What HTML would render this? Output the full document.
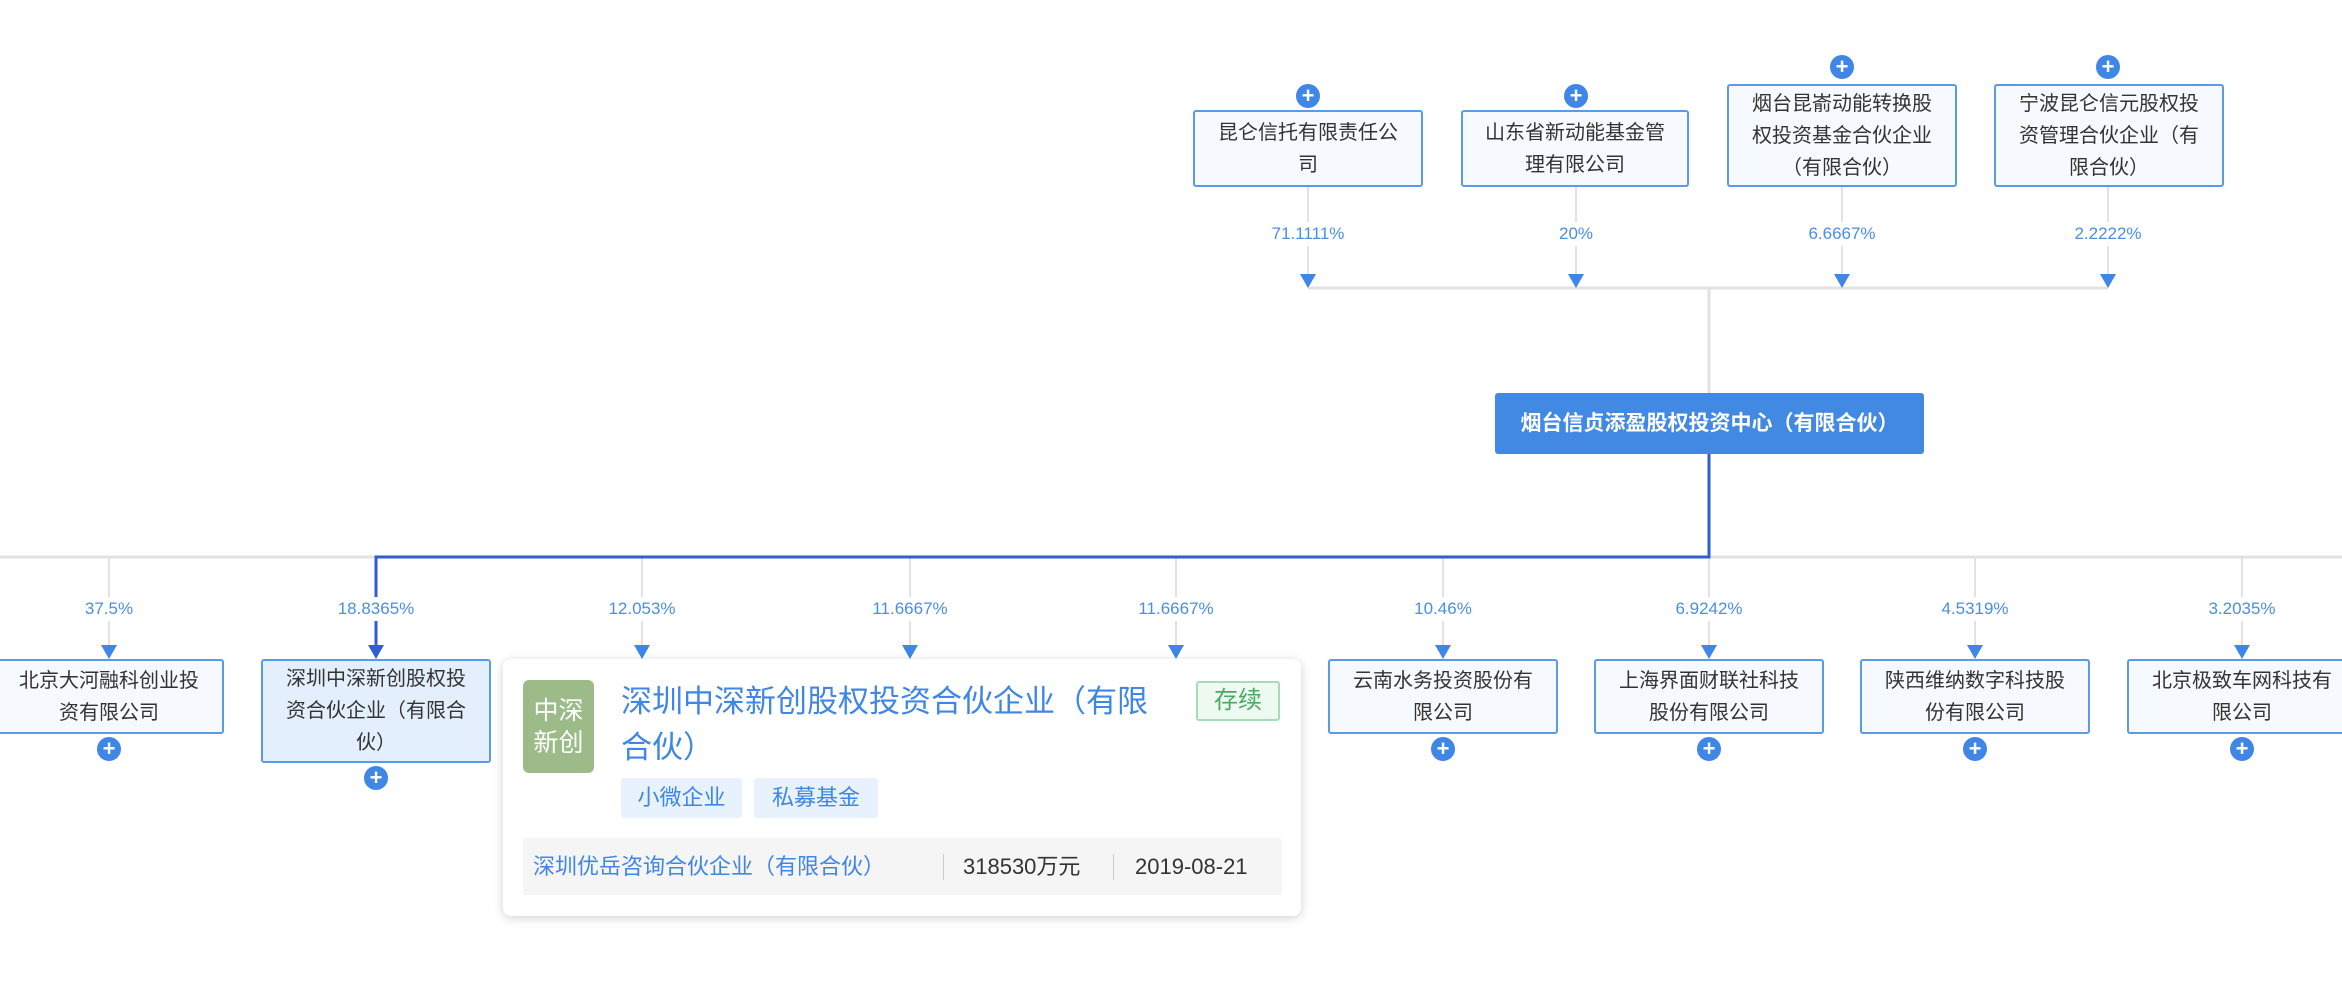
<!DOCTYPE html>
<html><head><meta charset="utf-8"><style>
body{margin:0;width:2342px;height:982px;background:#fff;position:relative;overflow:hidden;font-family:"Liberation Sans","Noto Sans CJK SC",sans-serif;}
.a{position:absolute}
.box{position:absolute;box-sizing:border-box;border:2px solid #5a9be8;border-radius:3px;background:#f6f9fe;color:#333;font-size:20px;line-height:32px;text-align:center;display:flex;align-items:center;justify-content:center;padding:0 21px}
.pct{position:absolute;color:#4a8ee6;font-size:17px;text-align:center;background:#fff;padding:2px 0;transform:translateX(-50%)}
.plus{position:absolute;width:24px;height:24px;border-radius:50%;background:#3f86e6;color:#fff;font-size:22px;line-height:23px;text-align:center;font-weight:bold}
</style></head><body>
<svg class="a" style="left:0;top:0" width="2342" height="982">
<g stroke="#e2e2e2" stroke-width="3" fill="none">
<line x1="1308" y1="288" x2="2108" y2="288"/>
<line x1="1709" y1="288" x2="1709" y2="393"/>
<line x1="0" y1="557" x2="2342" y2="557"/>
</g>
<g stroke="#e2e2e2" stroke-width="2">
<line x1="1308" y1="187" x2="1308" y2="276"/><line x1="1576" y1="187" x2="1576" y2="276"/><line x1="1842" y1="187" x2="1842" y2="276"/><line x1="2108" y1="187" x2="2108" y2="276"/>
<line x1="109" y1="557" x2="109" y2="648"/><line x1="642" y1="557" x2="642" y2="648"/><line x1="910" y1="557" x2="910" y2="648"/><line x1="1176" y1="557" x2="1176" y2="648"/><line x1="1443" y1="557" x2="1443" y2="648"/><line x1="1709" y1="557" x2="1709" y2="648"/><line x1="1975" y1="557" x2="1975" y2="648"/><line x1="2242" y1="557" x2="2242" y2="648"/>
</g>
<g fill="#3f86e6">
<polygon points="1300,274 1316,274 1308,288"/><polygon points="1568,274 1584,274 1576,288"/><polygon points="1834,274 1850,274 1842,288"/><polygon points="2100,274 2116,274 2108,288"/>
<polygon points="101,645 117,645 109,659"/><polygon points="634,645 650,645 642,659"/><polygon points="902,645 918,645 910,659"/><polygon points="1168,645 1184,645 1176,659"/><polygon points="1435,645 1451,645 1443,659"/><polygon points="1701,645 1717,645 1709,659"/><polygon points="1967,645 1983,645 1975,659"/><polygon points="2234,645 2250,645 2242,659"/>
</g>
<polyline points="1709,454 1709,557 376,557 376,648" stroke="#2f5fd0" stroke-width="3" fill="none"/>
<polygon points="368,645 384,645 376,659" fill="#2f5fd0"/>
</svg>
<div class="box" style="left:1193px;top:110px;width:230px;height:77px">昆仑信托有限责任公司</div>
<div class="box" style="left:1461px;top:110px;width:228px;height:77px">山东省新动能基金管理有限公司</div>
<div class="box" style="left:1727px;top:84px;width:230px;height:103px">烟台昆嵛动能转换股权投资基金合伙企业（有限合伙）</div>
<div class="box" style="left:1994px;top:84px;width:230px;height:103px">宁波昆仑信元股权投资管理合伙企业（有限合伙）</div>
<div class="plus" style="left:1296px;top:84px">+</div><div class="plus" style="left:1564px;top:84px">+</div><div class="plus" style="left:1830px;top:55px">+</div><div class="plus" style="left:2096px;top:55px">+</div>
<div class="pct" style="left:1308px;top:222px">71.1111%</div><div class="pct" style="left:1576px;top:222px">20%</div><div class="pct" style="left:1842px;top:222px">6.6667%</div><div class="pct" style="left:2108px;top:222px">2.2222%</div>
<div class="a" style="left:1495px;top:393px;width:429px;height:61px;background:#4289e4;border-radius:3px;color:#fff;font-weight:bold;font-size:21px;line-height:61px;text-align:center">烟台信贞添盈股权投资中心（有限合伙）</div>
<div class="pct" style="left:109px;top:597px">37.5%</div><div class="pct" style="left:376px;top:597px">18.8365%</div><div class="pct" style="left:642px;top:597px">12.053%</div><div class="pct" style="left:910px;top:597px">11.6667%</div><div class="pct" style="left:1176px;top:597px">11.6667%</div><div class="pct" style="left:1443px;top:597px">10.46%</div><div class="pct" style="left:1709px;top:597px">6.9242%</div><div class="pct" style="left:1975px;top:597px">4.5319%</div><div class="pct" style="left:2242px;top:597px">3.2035%</div>
<div class="box" style="left:-6px;top:659px;width:230px;height:75px">北京大河融科创业投资有限公司</div>
<div class="box" style="left:261px;top:659px;width:230px;height:104px;background:#e3effc">深圳中深新创股权投资合伙企业（有限合伙）</div>
<div class="box" style="left:527px;top:659px;width:230px;height:75px"></div>
<div class="box" style="left:795px;top:659px;width:230px;height:75px"></div>
<div class="box" style="left:1061px;top:659px;width:230px;height:75px"></div>
<div class="box" style="left:1328px;top:659px;width:230px;height:75px">云南水务投资股份有限公司</div>
<div class="box" style="left:1594px;top:659px;width:230px;height:75px">上海界面财联社科技股份有限公司</div>
<div class="box" style="left:1860px;top:659px;width:230px;height:75px">陕西维纳数字科技股份有限公司</div>
<div class="box" style="left:2127px;top:659px;width:230px;height:75px">北京极致车网科技有限公司</div>
<div class="plus" style="left:97px;top:737px">+</div><div class="plus" style="left:364px;top:766px">+</div><div class="plus" style="left:1431px;top:737px">+</div><div class="plus" style="left:1697px;top:737px">+</div><div class="plus" style="left:1963px;top:737px">+</div><div class="plus" style="left:2230px;top:737px">+</div>
<div class="a" style="left:503px;top:659px;width:798px;height:257px;background:#fff;border-radius:8px;box-shadow:0 2px 10px rgba(0,0,0,0.18)">
 <div class="a" style="left:20px;top:21px;width:71px;height:93px;background:#9cbb88;border-radius:6px;color:#fff;font-size:25px;line-height:32px;text-align:center;display:flex;align-items:center;justify-content:center">中深<br>新创</div>
 <div class="a" style="left:118px;top:20px;width:560px;color:#3f86e6;font-size:31px;line-height:46px">深圳中深新创股权投资合伙企业（有限<br>合伙）</div>
 <div class="a" style="left:693px;top:22px;width:84px;height:40px;box-sizing:border-box;border:2px solid #a6dcb8;background:#eef9f1;color:#4aaa63;font-size:24px;line-height:36px;text-align:center;border-radius:3px">存续</div>
 <div class="a" style="left:118px;top:119px;width:121px;height:40px;background:#e8f2fd;color:#3f86e6;font-size:22px;line-height:40px;text-align:center;border-radius:3px">小微企业</div>
 <div class="a" style="left:251px;top:119px;width:124px;height:40px;background:#e8f2fd;color:#3f86e6;font-size:22px;line-height:40px;text-align:center;border-radius:3px">私募基金</div>
 <div class="a" style="left:20px;top:179px;width:759px;height:57px;background:#f5f5f5;border-radius:3px;font-size:22px;line-height:57px">
  <span class="a" style="left:10px;color:#3f86e6">深圳优岳咨询合伙企业（有限合伙）</span>
  <span class="a" style="left:420px;top:16px;height:26px;border-left:1px solid #ccc"></span>
  <span class="a" style="left:440px;color:#333">318530万元</span>
  <span class="a" style="left:590px;top:16px;height:26px;border-left:1px solid #ccc"></span>
  <span class="a" style="left:612px;color:#333">2019-08-21</span>
 </div>
</div>
</body></html>
